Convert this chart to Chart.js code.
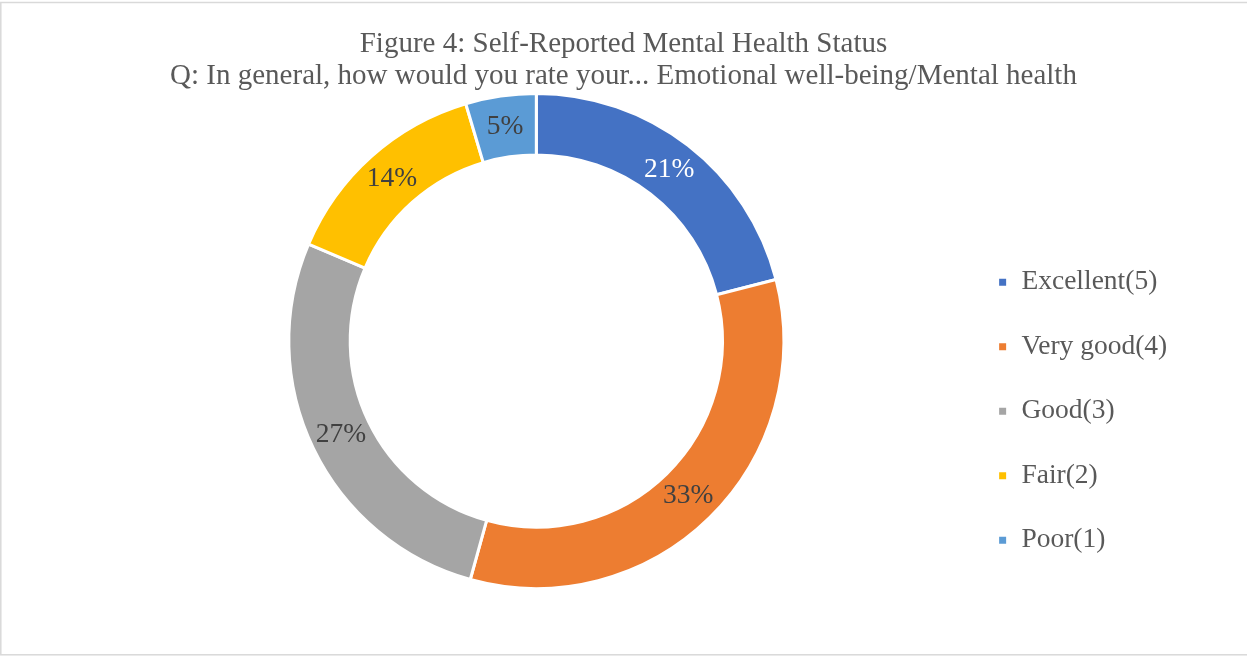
<!DOCTYPE html>
<html>
<head>
<meta charset="utf-8">
<title>Figure 4</title>
<script src="https://cdn.jsdelivr.net/npm/chart.js@4"></script>
<style>
  body { margin: 0; background: #fff; }
  #wrap { width: 1247px; height: 656px; }
</style>
</head>
<body>
<div id="wrap"><canvas id="myChart" width="1247" height="656"></canvas></div>
<script>
// datos
const categories = ['Excellent(5)', 'Very good(4)', 'Good(3)', 'Fair(2)', 'Poor(1)'];
const shares = [21, 33.3, 27.1, 14, 4.6];
const titleLines = [
    'Figure 4: Self-Reported Mental Health Status',
    'Q: In general, how would you rate your... Emotional well-being/Mental health'
];

const sliceColors = ['#4472C4', '#ED7D31', '#A5A5A5', '#FFC000', '#5B9BD5'];
const labelColors = ['#FFFFFF', '#404040', '#404040', '#404040', '#404040'];
const serif = '"Liberation Serif", "Times New Roman", serif';

// etiquetas de porcentaje en el centro de cada segmento
const sliceLabels = {
    id: 'sliceLabels',
    afterDatasetsDraw(chart) {
        const ctx = chart.ctx;
        const meta = chart.getDatasetMeta(0);
        const total = shares.reduce((a, b) => a + b, 0);
        ctx.save();
        ctx.font = '27.5px ' + serif;
        ctx.textAlign = 'center';
        ctx.textBaseline = 'middle';
        meta.data.forEach((arc, i) => {
            const pos = arc.tooltipPosition();
            ctx.fillStyle = labelColors[i];
            ctx.fillText(Math.round(shares[i] / total * 100) + '%', pos.x, pos.y);
        });
        ctx.restore();
    }
};

// borde gris del grafico
const chartBorder = {
    id: 'chartBorder',
    beforeDraw(chart) {
        const ctx = chart.ctx;
        ctx.save();
        ctx.strokeStyle = '#D9D9D9';
        ctx.lineWidth = 1.5;
        ctx.strokeRect(0.8, 2.5, 1260, 652.3);
        ctx.restore();
    }
};

const ctx = document.getElementById('myChart').getContext('2d');
const myChart = new Chart(ctx, {
    type: 'doughnut',
    data: {
        labels: categories,
        datasets: [{
            data: shares,
            backgroundColor: sliceColors,
            borderColor: '#FFFFFF',
            borderWidth: 3,
            hoverOffset: 0
        }]
    },
    options: {
        responsive: false,
        animation: false,
        radius: 247.5,
        cutout: '75.2%',
        // valores "redondos" a proposito: la leyenda alineada al final falla con decimales raros
        layout: {
            padding: { top: 20, bottom: 65, left: 69.75, right: 69.75 }
        },
        plugins: {
            title: {
                display: true,
                text: titleLines,
                color: '#595959',
                font: { family: serif, size: 29, weight: 'normal', lineHeight: '31.5px' },
                padding: { top: 9, bottom: -1 }
            },
            // subtitulo vacio a la izquierda: solo empuja el anillo hacia la derecha
            subtitle: {
                display: true,
                position: 'left',
                fullSize: false,
                text: '',
                font: { size: 10, lineHeight: 1 },
                padding: { top: 32.25, bottom: 0 }
            },
            legend: {
                position: 'right',
                align: 'end',
                labels: {
                    color: '#595959',
                    font: { family: serif, size: 27.5 },
                    boxWidth: 10,
                    boxHeight: 10,
                    padding: 37
                }
            },
            tooltip: { enabled: false }
        }
    },
    plugins: [chartBorder, sliceLabels]
});
</script>
</body>
</html>
